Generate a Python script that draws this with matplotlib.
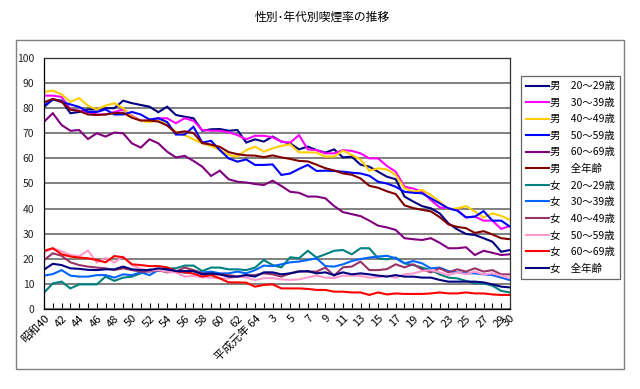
import matplotlib
matplotlib.use("Agg")
import matplotlib.pyplot as plt
from matplotlib.patches import Rectangle

plt.rcParams['font.family'] = ['Noto Sans CJK JP', 'DejaVu Sans']

title = "性別･年代別喫煙率の推移"

# Category labels (昭和40 = 1965 ... 平成30 = 2018)
x_labels = ["昭和40", "", "42", "", "44", "", "46", "", "48", "", "50", "", "52", "", "54", "",
            "56", "", "58", "", "60", "", "62", "", "平成元年 64", "", "3", "", "5", "", "7", "",
            "9", "", "11", "", "13", "", "15", "", "17", "", "19", "", "21", "", "23", "", "25", "",
            "27", "", "29", "30"]

series_names = ["男　20～29歳", "男　30～39歳", "男　40～49歳", "男　50～59歳", "男　60～69歳", "男　全年齢",
                "女　20～29歳", "女　30～39歳", "女　40～49歳", "女　50～59歳", "女　60～69歳", "女　全年齢"]

m20 = [80.5, 83.5, 83, 78, 78.5, 79.5, 79.5, 80, 80, 83, 82, 81.3, 80.6, 78.4, 80.6, 77.3, 76.6, 76, 71,
       71.6, 71.7, 71, 71.3, 66.3, 67.6, 66.7, 68.7, 66.7, 66, 63.6, 64.7, 63.3, 62.3, 63.6, 60.4, 60.7,
       57.5, 56.7, 54.7, 52.7, 51.7, 44.8, 42.8, 41, 40.1, 38.1, 34.1, 31.7, 29.9, 29.5, 28.2, 26.8, 22.8, 23.5]
m30 = [85, 85, 84.5, 79.5, 79, 78.5, 77.5, 77.5, 78.5, 79.5, 77, 75, 75, 76, 76, 74, 76, 75, 71.3,
       71, 71, 70.4, 69.3, 67.6, 69, 69, 68.4, 66.7, 66.3, 69.3, 63.6, 63.3, 62, 62, 63.3, 63,
       62, 60, 60, 57, 54.7, 48.7, 48, 46.7, 43.4, 40.5, 40.1, 39.4, 36.5, 36.8, 35.2, 35.2, 31.9, 33.1]
m40 = [86.5, 87, 85.5, 82.5, 84, 81, 79.5, 81, 82, 80, 76.6, 75, 74.5, 75, 73.5, 70.5, 69.3, 67.6, 66,
       65, 63.3, 61.4, 60.7, 63.3, 64.7, 62.7, 64, 65, 65.6, 62.4, 62.4, 62.3, 60.7, 60.7, 63.1, 61.4,
       59.5, 55.1, 56, 55.6, 53.4, 48.1, 46.7, 47.4, 45.4, 42.8, 39.7, 40.1, 41, 38.8, 36.5, 38.1, 37.1, 35.5]
m50 = [81, 83.5, 82.5, 81.5, 80.5, 78.5, 78.5, 79.5, 77.5, 77.5, 78.5, 77.5, 75.5, 76, 74.5, 69.5, 69.5,
       72.6, 66.3, 67, 63.3, 60, 58.7, 59.6, 57.4, 57.4, 57.6, 53.4, 54, 55.8, 57.4, 55, 55.1, 55, 54.7,
       54.3, 54, 53.1, 50.7, 50, 48.7, 46.7, 46.3, 46.1, 44.1, 42.1, 40.1, 39.2, 36.5, 36.8, 39, 35.2, 35.2, 32.8]
m60 = [74.6, 78, 73.3, 71, 71.3, 67.7, 70, 68.7, 70.3, 70, 66, 64.3, 67.6, 66, 62.7, 60.4, 61, 59, 56.7,
       53, 55.1, 51.7, 50.7, 50.4, 49.8, 49.4, 51.1, 49, 46.7, 46.3, 44.8, 44.8, 44.1, 41, 38.6, 37.8,
       37, 35.2, 33.2, 32.5, 31.5, 28.2, 27.8, 27.5, 28.2, 26.4, 24.2, 24.2, 24.6, 21.5, 23.2, 22.4, 21.5, 21.8]
m_all = [82.3, 83.7, 82.5, 79.4, 78.9, 77.5, 77.3, 77.5, 78, 78.2, 76.2, 75.1, 75.1, 74.7, 73.1, 70.2,
         70.8, 70.1, 66.1, 65.5, 64.6, 62.5, 61.7, 61.2, 61.1, 60.5, 61.2, 60.4, 59.8, 59.0, 58.8, 57.5,
         56.1, 55.2, 54.0, 53.5, 52.0, 49.1, 48.3, 46.9, 45.8, 41.3, 40.2, 39.5, 38.9, 36.6, 33.7, 32.7,
         32.2, 30.3, 31.0, 29.7, 28.2, 27.8]
f20 = [6.5, 10.2, 10.9, 8.2, 9.8, 9.8, 9.8, 12.9, 11.2, 12.5, 12.9, 14.2, 15.8, 15.1, 16.2, 16.2, 17.3,
       17.3, 15.1, 16.5, 16.5, 15.8, 15.8, 15.5, 16.5, 19.5, 17.5, 16.6, 20.6, 20.2, 23.2, 20.5, 21.8,
       23.2, 23.5, 21.8, 24.2, 24.2, 20.2, 19.8, 20.5, 18.2, 17.5, 16.5, 15.5, 13.8, 12.5, 12.2, 11.2,
       10.2, 10.2, 9.3, 7.2, 6.6]
f30 = [13.3, 13.9, 15.5, 13.3, 12.9, 12.9, 13.5, 13.5, 12.5, 13.8, 13.5, 14.6, 13.5, 15.5, 15.1, 14.9,
       14.5, 15.2, 14.5, 14.9, 14.2, 14.2, 14.9, 14.2, 15.5, 17.3, 17.1, 17.8, 18.6, 18.9, 19.5, 20.2,
       17.1, 16.9, 17.8, 19.1, 19.9, 20.5, 20.9, 21.2, 20.2, 18.2, 19.1, 18.2, 16.2, 16.5, 15.1, 14.6,
       14.2, 14.2, 13.8, 13.5, 12.5, 11.5]
f40 = [19.5, 22.2, 21.2, 18.6, 17.5, 16.9, 16.5, 16.2, 15.5, 16.2, 15.5, 14.9, 14.9, 15.5, 14.6, 14.9,
       16.5, 15.5, 14.2, 13.8, 13.8, 13.5, 12.9, 13.5, 13.5, 14.2, 13.8, 12.9, 14.2, 15.1, 14.9, 14.9,
       16.5, 13.3, 16.6, 16.9, 18.9, 15.5, 15.5, 15.9, 17.8, 16.6, 17.8, 15.8, 14.6, 16.2, 14.6, 15.8,
       14.9, 16.2, 14.9, 15.5, 13.8, 13.8]
f50 = [22.5, 24.2, 23, 21.5, 21, 23.3, 18.5, 20.3, 18.5, 20.9, 17.5, 16, 15.3, 15.5, 14.9, 14.6, 12.9,
       13.2, 12.7, 12.5, 12.2, 12.2, 12.9, 12.5, 11.5, 12.3, 12.3, 11.8, 11.6, 11.8, 12.6, 13.3, 12.5,
       12.3, 13.3, 13.3, 13.2, 12.5, 12.7, 13.3, 12.5, 13.8, 14.2, 15.1, 15.5, 14.6, 13.5, 14.6, 13.8,
       14.9, 13.8, 14.2, 13.3, 12.4]
f60 = [23.2, 24.2, 21.8, 20.9, 20.5, 20.2, 19.5, 18.6, 21.1, 20.6, 17.8, 17.5, 17.1, 17.1, 16.6, 15.1,
       14.6, 14.1, 12.9, 13.5, 12.2, 10.6, 10.6, 10.5, 8.9, 9.6, 9.8, 8.2, 8.2, 8.2, 8, 7.6, 7.6, 6.9,
       6.9, 6.6, 6.6, 5.6, 6.6, 5.8, 6.2, 6, 6, 6, 6.2, 6.6, 6.2, 6.2, 6.6, 6.2, 6.2, 5.8, 5.6, 5.6]
f_all = [15.7, 18, 17.5, 16.2, 16, 15.6, 15.5, 15.8, 15.8, 16.9, 15.8, 15.5, 15.5, 16.2, 15.8, 15.1,
         15.1, 15.1, 13.8, 14.2, 13.8, 12.9, 12.9, 13.5, 12.9, 14.6, 14.6, 13.8, 14.2, 14.9, 15.1, 14.2,
         14.6, 13.5, 14.6, 13.8, 14.2, 13.8, 13.3, 12.9, 13.5, 12.9, 12.9, 12.5, 12.5, 11.6, 10.9, 10.9,
         10.9, 10.9, 10.6, 9.8, 8.9, 8.6]

series = [m20, m30, m40, m50, m60, m_all, f20, f30, f40, f50, f60, f_all]
colors = ["#000080", "#FF00FF", "#FFCC00", "#0000FF", "#800080", "#800000",
          "#008080", "#0066FF", "#993366", "#FF99CC", "#FF0000", "#000080"]

W, H = 640, 389
fig = plt.figure(figsize=(W / 100, H / 100), dpi=100)
fig.patch.set_facecolor("white")

L, R, T, B = 44, 510, 58, 309
ax = fig.add_axes([L / W, 1 - B / H, (R - L) / W, (B - T) / H])

x = list(range(len(x_labels)))
lines = []
for name, vals, c in zip(series_names, series, colors):
    ln, = ax.plot(x, vals, color=c, lw=1.5, label=name, solid_joinstyle="miter")
    lines.append(ln)

ax.set_xlim(0, len(x_labels) - 1)
ax.set_ylim(0, 100)
ax.set_yticks(range(0, 101, 10))
ax.yaxis.grid(True, color="#808080", lw=1.4)
ax.set_axisbelow(True)
ax.tick_params(axis="y", length=0, pad=7, labelsize=7.5, labelcolor="#222222")
ax.set_xticks(x)
ax.set_xticklabels(x_labels, rotation=45, ha="right", rotation_mode="anchor", fontsize=8)
ax.tick_params(axis="x", direction="in", length=4, width=0.8, pad=3)
for s in ["left", "bottom"]:
    ax.spines[s].set_color("black")
    ax.spines[s].set_linewidth(0.9)
for s in ["top", "right"]:
    ax.spines[s].set_color("#333333")
    ax.spines[s].set_linewidth(0.9)

fig.text(322 / W, 1 - 17 / H, title, ha="center", va="center", fontsize=8.5)

fig.patches.append(Rectangle((16 / W, 1 - 369 / H), (624 - 16) / W, (369 - 40) / H,
                             transform=fig.transFigure, fill=False, edgecolor="#808080", lw=1))

leg = fig.legend(handles=lines, loc="upper left", bbox_to_anchor=(521 / W, 1 - 76 / H),
                 bbox_transform=fig.transFigure, borderaxespad=0, fontsize=7.5,
                 frameon=True, fancybox=False, edgecolor="#404040", handlelength=2.2,
                 handletextpad=0.1, labelspacing=0.62, borderpad=0.5)
leg.get_frame().set_linewidth(0.9)

fig.savefig("out.png", dpi=100)
